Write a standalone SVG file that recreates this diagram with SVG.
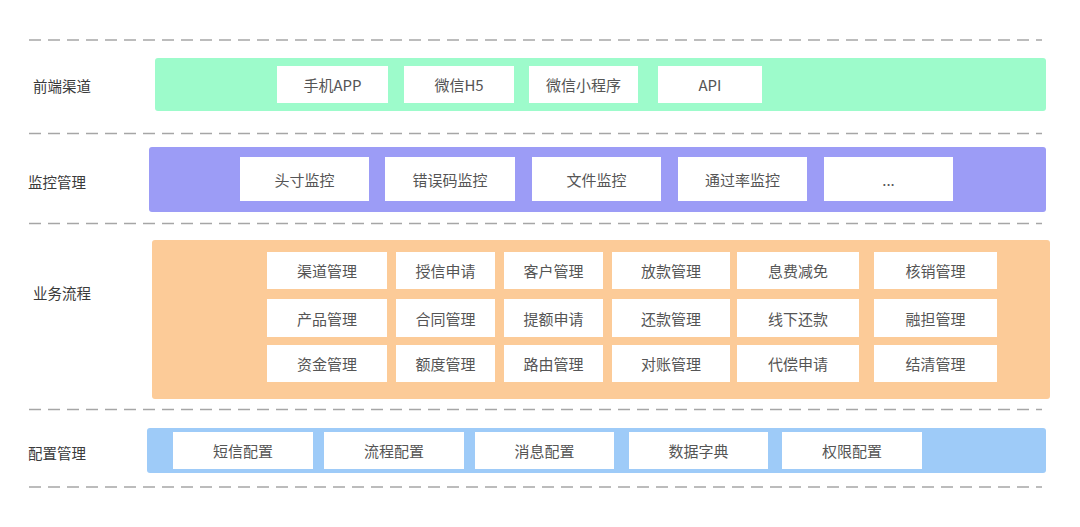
<svg xmlns="http://www.w3.org/2000/svg" width="1080" height="527" viewBox="0 0 1080 527">
<style>
.bg{fill:#ffffff}
.dash{stroke:#a6a6a6;stroke-width:1.5;stroke-dasharray:12 7;fill:none}
.lbl{font-family:"Noto Sans CJK SC","Liberation Sans",sans-serif;font-size:14.5px;fill:#3a3a3a;dominant-baseline:central}
.box{fill:#ffffff}
.t{font-family:"Noto Sans CJK SC","Liberation Sans",sans-serif;font-size:15px;fill:#555555;text-anchor:middle;dominant-baseline:central}
.green{fill:#9dfbcb}
.purple{fill:#9c9cf6}
.orange{fill:#fccb98}
.blue{fill:#9ecbf8}
</style>
<rect class="bg" x="0" y="0" width="1080" height="527"/>
<g id="connectors">
<line class="dash" x1="29" y1="40" x2="1042" y2="40"/>
<line class="dash" x1="29" y1="133.5" x2="1042" y2="133.5"/>
<line class="dash" x1="29" y1="223.5" x2="1042" y2="223.5"/>
<line class="dash" x1="29" y1="409.5" x2="1042" y2="409.5"/>
<line class="dash" x1="29" y1="487" x2="1042" y2="487"/>
</g>
<g id="layer-frontend">
<text class="lbl" x="33" y="85">前端渠道</text>
<rect class="green" x="155" y="58" width="891" height="53" rx="3"/>
<g id="n-app"><rect class="box" x="277" y="66" width="111" height="37"/><text class="t" x="332.5" y="84.5">手机APP</text></g>
<g id="n-h5"><rect class="box" x="404" y="66" width="110" height="37"/><text class="t" x="459" y="84.5">微信H5</text></g>
<g id="n-mini"><rect class="box" x="529" y="66" width="109" height="37"/><text class="t" x="583.5" y="84.5">微信小程序</text></g>
<g id="n-api"><rect class="box" x="658" y="66" width="104" height="37"/><text class="t" x="710" y="84.5">API</text></g>
</g>
<g id="layer-monitor">
<text class="lbl" x="28" y="181">监控管理</text>
<rect class="purple" x="149" y="147" width="897" height="65" rx="3"/>
<g id="n-m1"><rect class="box" x="240" y="157" width="129" height="44"/><text class="t" x="304.5" y="179.5">头寸监控</text></g>
<g id="n-m2"><rect class="box" x="385" y="157" width="130" height="44"/><text class="t" x="450" y="179.5">错误码监控</text></g>
<g id="n-m3"><rect class="box" x="532" y="157" width="129" height="44"/><text class="t" x="596.5" y="179.5">文件监控</text></g>
<g id="n-m4"><rect class="box" x="678" y="157" width="129" height="44"/><text class="t" x="742.5" y="179.5">通过率监控</text></g>
<g id="n-m5"><rect class="box" x="824" y="157" width="129" height="44"/><text class="t" x="888.5" y="179.5">...</text></g>
</g>
<g id="layer-business">
<text class="lbl" x="33" y="292">业务流程</text>
<rect class="orange" x="152" y="240" width="898" height="159" rx="3"/>
<g id="n-b11"><rect class="box" x="267" y="252" width="120" height="37"/><text class="t" x="327" y="270.5">渠道管理</text></g>
<g id="n-b12"><rect class="box" x="396" y="252" width="99" height="37"/><text class="t" x="445.5" y="270.5">授信申请</text></g>
<g id="n-b13"><rect class="box" x="504" y="252" width="99" height="37"/><text class="t" x="553.5" y="270.5">客户管理</text></g>
<g id="n-b14"><rect class="box" x="612" y="252" width="118" height="37"/><text class="t" x="671" y="270.5">放款管理</text></g>
<g id="n-b15"><rect class="box" x="737" y="252" width="122" height="37"/><text class="t" x="798" y="270.5">息费减免</text></g>
<g id="n-b16"><rect class="box" x="874" y="252" width="123" height="37"/><text class="t" x="935.5" y="270.5">核销管理</text></g>
<g id="n-b21"><rect class="box" x="267" y="299" width="120" height="38"/><text class="t" x="327" y="318">产品管理</text></g>
<g id="n-b22"><rect class="box" x="396" y="299" width="99" height="38"/><text class="t" x="445.5" y="318">合同管理</text></g>
<g id="n-b23"><rect class="box" x="504" y="299" width="99" height="38"/><text class="t" x="553.5" y="318">提额申请</text></g>
<g id="n-b24"><rect class="box" x="612" y="299" width="118" height="38"/><text class="t" x="671" y="318">还款管理</text></g>
<g id="n-b25"><rect class="box" x="737" y="299" width="122" height="38"/><text class="t" x="798" y="318">线下还款</text></g>
<g id="n-b26"><rect class="box" x="874" y="299" width="123" height="38"/><text class="t" x="935.5" y="318">融担管理</text></g>
<g id="n-b31"><rect class="box" x="267" y="345" width="120" height="37"/><text class="t" x="327" y="363.5">资金管理</text></g>
<g id="n-b32"><rect class="box" x="396" y="345" width="99" height="37"/><text class="t" x="445.5" y="363.5">额度管理</text></g>
<g id="n-b33"><rect class="box" x="504" y="345" width="99" height="37"/><text class="t" x="553.5" y="363.5">路由管理</text></g>
<g id="n-b34"><rect class="box" x="612" y="345" width="118" height="37"/><text class="t" x="671" y="363.5">对账管理</text></g>
<g id="n-b35"><rect class="box" x="737" y="345" width="122" height="37"/><text class="t" x="798" y="363.5">代偿申请</text></g>
<g id="n-b36"><rect class="box" x="874" y="345" width="123" height="37"/><text class="t" x="935.5" y="363.5">结清管理</text></g>
</g>
<g id="layer-config">
<text class="lbl" x="28" y="452">配置管理</text>
<rect class="blue" x="147" y="428" width="899" height="45" rx="3"/>
<g id="n-c1"><rect class="box" x="173" y="432" width="140" height="37"/><text class="t" x="243" y="450.5">短信配置</text></g>
<g id="n-c2"><rect class="box" x="324" y="432" width="140" height="37"/><text class="t" x="394" y="450.5">流程配置</text></g>
<g id="n-c3"><rect class="box" x="475" y="432" width="139" height="37"/><text class="t" x="544.5" y="450.5">消息配置</text></g>
<g id="n-c4"><rect class="box" x="629" y="432" width="139" height="37"/><text class="t" x="698.5" y="450.5">数据字典</text></g>
<g id="n-c5"><rect class="box" x="782" y="432" width="140" height="37"/><text class="t" x="852" y="450.5">权限配置</text></g>
</g>
</svg>
